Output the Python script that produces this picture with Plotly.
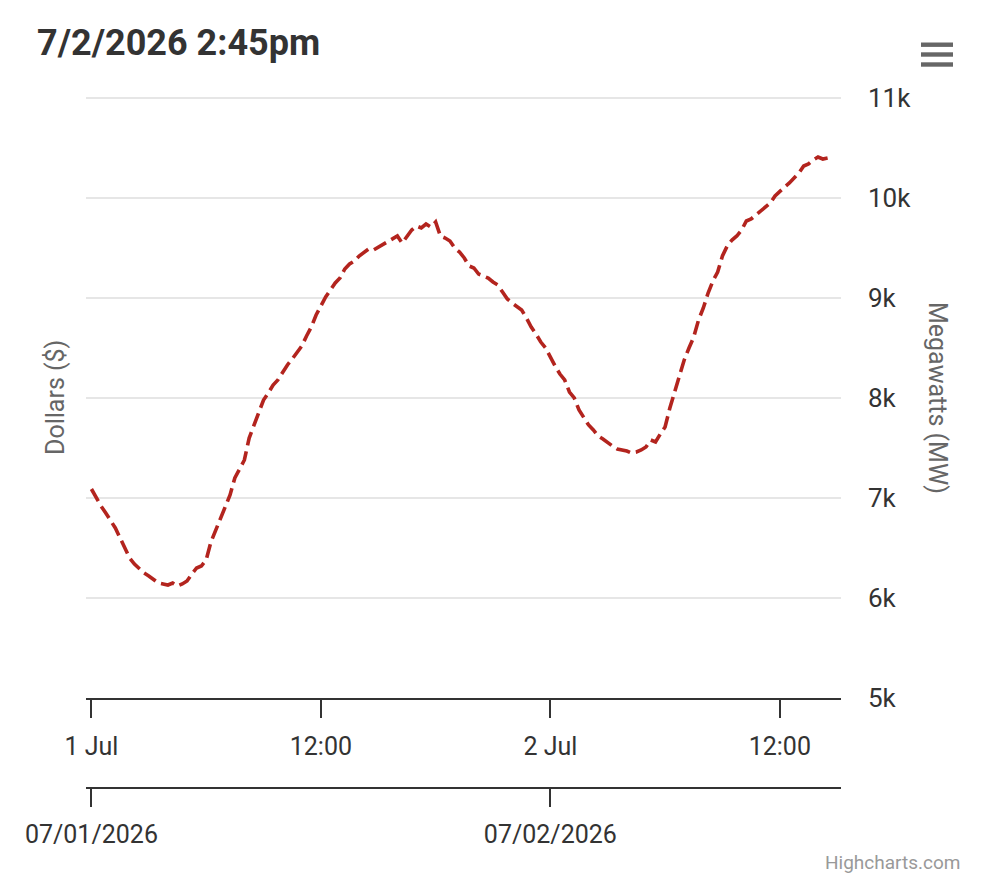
import pandas as pd
import plotly.graph_objects as go

# ---- data (15-minute load readings, MW) ----
start_time = "2026-07-01 00:00"
step = "15min"
megawatts = [
    7090, 7000, 6920, 6850,      # 00h
    6780, 6700, 6600, 6490,      # 01h
    6400, 6340, 6290, 6250,      # 02h
    6220, 6190, 6150, 6140,      # 03h
    6130, 6150, 6120, 6140,      # 04h
    6170, 6240, 6300, 6320,      # 05h
    6380, 6560, 6680, 6780,      # 06h
    6900, 7030, 7200, 7300,      # 07h
    7380, 7600, 7720, 7860,      # 08h
    7980, 8050, 8130, 8180,      # 09h
    8260, 8330, 8390, 8460,      # 10h
    8520, 8620, 8710, 8830,      # 11h
    8930, 9010, 9080, 9150,      # 12h
    9200, 9290, 9340, 9370,      # 13h
    9420, 9460, 9490, 9480,      # 14h
    9510, 9540, 9560, 9600,      # 15h
    9620, 9550, 9620, 9680,      # 16h
    9720, 9700, 9740, 9710,      # 17h
    9760, 9620, 9600, 9570,      # 18h
    9500, 9460, 9400, 9320,      # 19h
    9300, 9240, 9220, 9200,      # 20h
    9160, 9130, 9060, 8990,      # 21h
    8950, 8910, 8880, 8800,      # 22h
    8710, 8640, 8560, 8500,      # 23h
    8400, 8320, 8240, 8180,      # 2 Jul 00h
    8060, 8000, 7880, 7800,      # 01h
    7730, 7680, 7620, 7590,      # 02h
    7550, 7520, 7490, 7480,      # 03h
    7470, 7450, 7460, 7480,      # 04h
    7510, 7580, 7560, 7640,      # 05h
    7710, 7900, 8060, 8220,      # 06h
    8380, 8500, 8610, 8780,      # 07h
    8900, 9050, 9170, 9260,      # 08h
    9420, 9520, 9580, 9620,      # 09h
    9680, 9770, 9790, 9830,      # 10h
    9870, 9920, 9950, 10020,     # 11h
    10070, 10110, 10150, 10200,  # 12h
    10250, 10320, 10340, 10380,  # 13h
    10410, 10390, 10400,         # 14h
]
times = pd.date_range(start_time, periods=len(megawatts), freq=step)

x_range = ["2026-06-30 23:43", "2026-07-02 15:12"]
time_tickvals = ["2026-07-01 00:00", "2026-07-01 12:00", "2026-07-02 00:00", "2026-07-02 12:00"]
time_ticktext = ["1 Jul", "12:00", "2 Jul", "12:00"]
date_tickvals = ["2026-07-01 00:00", "2026-07-02 00:00"]
date_ticktext = ["07/01/2026", "07/02/2026"]
mw_range = [5000, 11010]
mw_tickvals = [5000, 6000, 7000, 8000, 9000, 10000, 11000]
mw_ticktext = ["5k", "6k", "7k", "8k", "9k", "10k", "11k"]

title_text = "7/2/2026 2:45pm"
left_title = "Dollars ($)"
right_title = "Megawatts (MW)"
credit_text = "Highcharts.com"

# ---- figure ----
W, H = 982, 890
ML, MR, MT, MB = 86, 141, 97, 102
PW, PH = W - ML - MR, H - MT - MB
FONT = "Roboto"
GRID = "#e6e6e6"

def px(xp):
    return (xp - ML) / PW

def py(yp):
    return (H - MB - yp) / PH

fig = go.Figure()
fig.add_trace(go.Scatter(
    x=times, y=megawatts, mode="lines",
    line=dict(color="#b3241e", width=3.6, dash="14px,6px"),
    hoverinfo="skip", showlegend=False,
))
# helper trace so the second (date) axis is drawn
fig.add_trace(go.Scatter(
    x=[times[0]], y=[None], xaxis="x2", yaxis="y",
    mode="lines", showlegend=False, hoverinfo="skip",
))

axis_font = dict(family=FONT, size=25, color="#333333")

fig.update_layout(
    width=W, height=H,
    margin=dict(l=ML, r=MR, t=MT, b=MB, pad=0),
    paper_bgcolor="white", plot_bgcolor="white",
    font=dict(family=FONT),
    title=dict(
        text=f"<b>{title_text}</b>", x=37 / W, xref="container", xanchor="left",
        y=1 - 42 / H, yref="container", yanchor="middle",
        font=dict(family=FONT, size=36, color="#333333"),
    ),
    xaxis=dict(
        type="date", range=x_range, anchor="y",
        tickmode="array", tickvals=time_tickvals, ticktext=time_ticktext,
        ticks="outside", ticklen=18, tickwidth=2, tickcolor="#333333",
        showline=True, linecolor="#333333", linewidth=2,
        showgrid=False, zeroline=False, tickfont=axis_font,
        ticklabelstandoff=7,
    ),
    xaxis2=dict(
        type="date", range=x_range, anchor="free", position=0, overlaying="x",
        tickmode="array", tickvals=date_tickvals, ticktext=date_ticktext,
        ticks="outside", ticklen=18, tickwidth=2, tickcolor="#333333",
        showline=True, linecolor="#333333", linewidth=2, side="bottom",
        showgrid=False, zeroline=False, tickfont=axis_font,
        ticklabelstandoff=6,
    ),
    yaxis=dict(
        side="right", range=mw_range, domain=[(H - MB - 698) / PH, 1],
        tickmode="array", tickvals=mw_tickvals, ticktext=mw_ticktext,
        showgrid=True, gridcolor=GRID, gridwidth=2,
        zeroline=False, showline=False, ticks="",
        tickfont=dict(family=FONT, size=26, color="#333333"), ticklabelstandoff=26,
    ),
    annotations=[
        dict(text=right_title, xref="paper", yref="paper", x=px(938), y=py(398),
             xanchor="center", yanchor="middle", textangle=90, showarrow=False,
             font=dict(family=FONT, size=25, color="#666666")),
        dict(text=left_title, xref="paper", yref="paper", x=px(55), y=py(398),
             xanchor="center", yanchor="middle", textangle=-90, showarrow=False,
             font=dict(family=FONT, size=25, color="#666666")),
        dict(text=credit_text, xref="paper", yref="paper", x=px(962), y=py(862),
             xanchor="right", yanchor="middle", showarrow=False,
             font=dict(family=FONT, size=19, color="#999999")),
    ],
)

# top gridline (Plotly drops the one at the top edge)
fig.add_shape(type="line", xref="x domain", yref="y", x0=0, x1=1,
              y0=mw_tickvals[-1], y1=mw_tickvals[-1],
              line=dict(color=GRID, width=2), layer="below")

# context-menu (hamburger) icon
for yc in (44.7, 54.5, 64.5):
    fig.add_shape(type="rect", xref="paper", yref="paper",
                  x0=px(921), x1=px(953), y0=py(yc + 2.2), y1=py(yc - 2.2),
                  fillcolor="#666666", line=dict(width=0), layer="above")

fig.write_html("out.html")
